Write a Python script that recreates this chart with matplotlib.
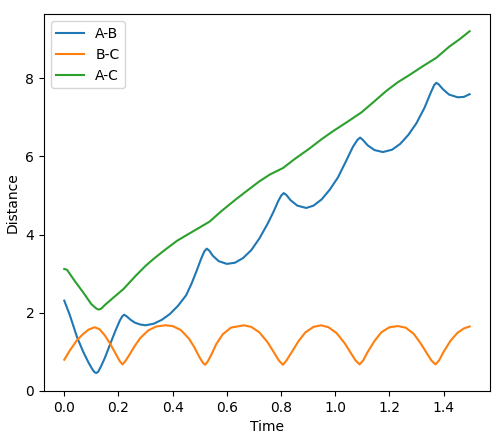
import matplotlib
matplotlib.use("Agg")
import matplotlib.pyplot as plt

# Distance A-B
t_ab = [0.0, 0.02, 0.047, 0.07, 0.09, 0.105, 0.112, 0.118, 0.125, 0.135, 0.15,
        0.17, 0.19, 0.205, 0.214, 0.221, 0.23, 0.245, 0.26, 0.28, 0.30, 0.33, 0.36,
        0.39, 0.42, 0.45, 0.47, 0.49, 0.505, 0.517, 0.526, 0.535, 0.548, 0.57,
        0.60, 0.63, 0.66, 0.69, 0.72, 0.75, 0.77, 0.79, 0.801, 0.81, 0.82, 0.835,
        0.86, 0.893, 0.92, 0.95, 0.98, 1.01, 1.04, 1.065, 1.082, 1.092, 1.102,
        1.12, 1.145, 1.176, 1.21, 1.24, 1.27, 1.30, 1.33, 1.352, 1.365, 1.373,
        1.382, 1.397, 1.42, 1.452, 1.475, 1.496]
d_ab = [2.31, 1.95, 1.38, 1.00, 0.72, 0.54, 0.48, 0.46, 0.49, 0.62, 0.85,
        1.21, 1.56, 1.80, 1.91, 1.95, 1.91, 1.82, 1.75, 1.70, 1.68, 1.72, 1.82,
        1.97, 2.18, 2.45, 2.75, 3.10, 3.38, 3.57, 3.64, 3.59, 3.46, 3.32,
        3.25, 3.28, 3.40, 3.60, 3.90, 4.27, 4.55, 4.86, 5.00, 5.06, 5.01, 4.88,
        4.74, 4.68, 4.74, 4.90, 5.15, 5.46, 5.88, 6.24, 6.42, 6.48, 6.42,
        6.28, 6.16, 6.11, 6.17, 6.32, 6.55, 6.85, 7.25, 7.62, 7.82, 7.88,
        7.84, 7.72, 7.58, 7.51, 7.52, 7.59]

# Distance B-C
t_bc = [0.0, 0.02, 0.047, 0.07, 0.09, 0.112, 0.13, 0.15, 0.17, 0.19, 0.205, 0.215,
        0.225, 0.24, 0.26, 0.28, 0.31, 0.34, 0.373, 0.40, 0.43, 0.46, 0.48, 0.50,
        0.512, 0.52, 0.53, 0.545, 0.561, 0.585, 0.615, 0.663, 0.69, 0.72, 0.75,
        0.77, 0.792, 0.807, 0.82, 0.84, 0.865, 0.89, 0.92, 0.948, 0.975, 1.005,
        1.035, 1.055, 1.075, 1.09, 1.103, 1.12, 1.145, 1.17, 1.20, 1.231, 1.26,
        1.29, 1.315, 1.335, 1.355, 1.37, 1.383, 1.40, 1.425, 1.45, 1.475, 1.496]
d_bc = [0.80, 1.03, 1.30, 1.46, 1.57, 1.63, 1.58, 1.42, 1.20, 0.95, 0.76, 0.68,
        0.76, 0.92, 1.15, 1.35, 1.55, 1.65, 1.68, 1.66, 1.56, 1.34, 1.12, 0.85,
        0.72, 0.67, 0.76, 0.96, 1.20, 1.45, 1.62, 1.68, 1.64, 1.50, 1.25,
        1.03, 0.78, 0.67, 0.78, 1.00, 1.28, 1.50, 1.64, 1.68, 1.63, 1.48,
        1.22, 1.00, 0.78, 0.68, 0.78, 1.00, 1.28, 1.50, 1.63, 1.66, 1.62,
        1.46, 1.22, 1.00, 0.78, 0.68, 0.78, 1.00, 1.28, 1.48, 1.60, 1.65]

# Distance A-C
t_ac = [0.0, 0.01, 0.04, 0.07, 0.10, 0.118, 0.127, 0.137, 0.15, 0.18, 0.219, 0.26,
        0.30, 0.33, 0.37, 0.416, 0.46, 0.514, 0.536, 0.58, 0.635, 0.68, 0.72, 0.76,
        0.807, 0.85, 0.905, 0.95, 0.991, 1.04, 1.096, 1.14, 1.188, 1.23, 1.274,
        1.32, 1.373, 1.42, 1.46, 1.496]
d_ac = [3.12, 3.10, 2.80, 2.52, 2.22, 2.11, 2.08, 2.11, 2.20, 2.38, 2.61, 2.92,
        3.20, 3.38, 3.60, 3.84, 4.02, 4.24, 4.33, 4.60, 4.91, 5.15, 5.36, 5.54,
        5.70, 5.93, 6.20, 6.44, 6.64, 6.86, 7.12, 7.38, 7.67, 7.89, 8.08,
        8.29, 8.52, 8.80, 9.00, 9.20]

fig = plt.figure(figsize=(5.04, 4.41), dpi=100)
plt.subplots_adjust(left=0.0873, right=0.972, top=0.968, bottom=0.1134)

plt.plot(t_ab, d_ab, label="A-B")
plt.plot(t_bc, d_bc, label="B-C")
plt.plot(t_ac, d_ac, label="A-C")
plt.ylim(bottom=0)

plt.xlabel("Time")
plt.ylabel("Distance")
plt.legend(loc="upper left")
plt.savefig("out.png", dpi=100)
